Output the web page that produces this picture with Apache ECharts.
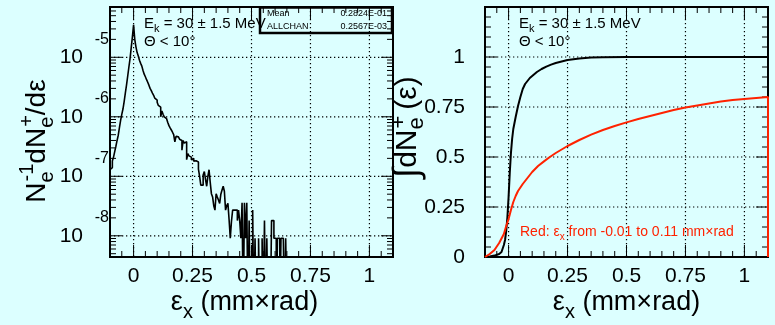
<!DOCTYPE html>
<html>
<head>
<meta charset="utf-8">
<script src="https://cdn.jsdelivr.net/npm/echarts@6.0.0/dist/echarts.min.js"></script>
<style>
html,body{margin:0;padding:0;background:#dcffff;}
#c{width:775px;height:325px;}
</style>
</head>
<body>
<div id="c"></div>
<script>
// ---------------- data ----------------
// left panel: histogram N^-1 dN/d(eps), bins of 0.005 starting at -0.1 (0 = empty bin)
const histStart = -0.1;
const histBinWidth = 0.005;
const histValues = [
  1.3e-7, 1.4e-7, 1.8e-7, 2.1e-7, 2.6e-7, 3.2e-7, 4.0e-7, 4.9e-7, 6.6e-7, 8.7e-7,
  1.1e-6, 1.35e-6, 1.8e-6, 2.5e-6, 3.4e-6, 4.8e-6, 6.8e-6, 9.5e-6, 1.45e-5, 2.2e-5,
  3.5e-5, 2.0e-5, 1.5e-5, 1.2e-5, 1.05e-5, 8.9e-6, 7.9e-6, 7.1e-6, 6.0e-6, 5.2e-6,
  4.7e-6, 4.2e-6, 3.8e-6, 3.4e-6, 3.0e-6, 2.75e-6, 2.5e-6, 2.3e-6, 2.05e-6, 1.9e-6,
  1.75e-6, 1.55e-6, 1.45e-6, 1.0e-6, 1.25e-6, 1.1e-6, 1.0e-6, 9.3e-7, 8.7e-7, 8.0e-7,
  7.1e-7, 6.5e-7, 6.0e-7, 5.5e-7, 5.0e-7, 3.8e-7, 4.7e-7, 4.6e-7, 4.4e-7, 4.2e-7,
  4.0e-7, 2.75e-7, 4.0e-7, 3.6e-7, 3.8e-7, 1.9e-7, 2.4e-7, 2.2e-7, 2.1e-7, 1.9e-7,
  2.0e-7, 1.8e-7, 1.82e-7, 1.86e-7, 1.74e-7, 1.32e-7, 1.0e-7, 7.1e-8, 7.1e-8, 1.05e-7,
  1.2e-7, 8.9e-8, 6.8e-8, 1.0e-7, 1.29e-7, 7.9e-8, 5.1e-8, 4.5e-8, 3.2e-8, 2.7e-8,
  5.1e-8, 4.5e-8, 4.0e-8, 3.5e-8, 5.0e-8, 5.9e-8, 6.8e-8, 5.6e-8, 2.7e-8, 3.2e-8,
  3.5e-8, 1.86e-8, 9.1e-9, 1.74e-8, 2.7e-8, 2.7e-8, 2.7e-8, 2.7e-8, 1.8e-8, 2.7e-8,
  1.8e-8, 9.1e-9, 3.6e-8, 0, 3.6e-8, 9.1e-9, 3.6e-8, 0, 1.8e-8, 0,
  0, 2.7e-8, 0, 9.1e-9, 0, 0, 9.1e-9, 0, 0, 9.1e-9,
  0, 1.8e-8, 0, 9.1e-9, 0, 0, 0, 1.8e-8, 1.8e-8, 9.1e-9,
  9.1e-9, 0, 9.1e-9, 9.1e-9, 0, 9.1e-9, 9.1e-9, 9.1e-9, 0, 9.1e-9,
  0, 0
];
// right panel: cumulative distributions
const cumBlackX = [-0.1, -0.08, -0.06, -0.04, -0.03, -0.02, -0.015, -0.01, -0.005, 0, 0.005, 0.01, 0.015, 0.02, 0.03, 0.04, 0.05, 0.06, 0.07, 0.08, 0.09, 0.1, 0.12, 0.14, 0.16, 0.18, 0.2, 0.25, 0.3, 0.35, 0.4, 0.5, 1.1];
const cumBlackY = [0, 0.003, 0.007, 0.015, 0.025, 0.06, 0.085, 0.13, 0.2, 0.3, 0.42, 0.52, 0.59, 0.64, 0.70, 0.755, 0.80, 0.84, 0.865, 0.88, 0.895, 0.905, 0.925, 0.94, 0.952, 0.962, 0.97, 0.985, 0.993, 0.997, 0.999, 1.0, 1.0];
const cumRedX = [-0.1, -0.08, -0.06, -0.04, -0.02, -0.01, 0, 0.01, 0.02, 0.03, 0.04, 0.06, 0.08, 0.1, 0.125, 0.15, 0.175, 0.2, 0.25, 0.3, 0.35, 0.4, 0.45, 0.5, 0.55, 0.6, 0.65, 0.7, 0.75, 0.8, 0.85, 0.9, 0.95, 1.0, 1.05, 1.1, 1.1];
const cumRedY = [0, 0.015, 0.035, 0.07, 0.115, 0.155, 0.19, 0.235, 0.275, 0.305, 0.33, 0.365, 0.395, 0.425, 0.455, 0.478, 0.50, 0.52, 0.555, 0.585, 0.612, 0.635, 0.655, 0.673, 0.69, 0.705, 0.72, 0.735, 0.748, 0.758, 0.768, 0.777, 0.785, 0.79, 0.795, 0.80, 0];

// axes / ticks
const xRange = [-0.1, 1.1];
const logRange = [4.4e-9, 7e-5];
const fracRange = [0, 1.25];
const xTickLabels = [0, 0.25, 0.5, 0.75, 1];
const xMinorTicks = [-0.05, 0.05, 0.1, 0.15, 0.2, 0.3, 0.35, 0.4, 0.45, 0.55, 0.6, 0.65, 0.7, 0.8, 0.85, 0.9, 0.95, 1.05];
const fracTickLabels = [0, 0.25, 0.5, 0.75, 1];
const fracMinorTicks = [0.05, 0.1, 0.15, 0.2, 0.3, 0.35, 0.4, 0.45, 0.55, 0.6, 0.65, 0.7, 0.8, 0.85, 0.9, 0.95, 1.05, 1.1, 1.15, 1.2];
const logMajorTicks = [1e-8, 1e-7, 1e-6, 1e-5];
const logMinorTicks = [5e-9, 6e-9, 7e-9, 8e-9, 9e-9,
  2e-8, 3e-8, 4e-8, 5e-8, 6e-8, 7e-8, 8e-8, 9e-8,
  2e-7, 3e-7, 4e-7, 5e-7, 6e-7, 7e-7, 8e-7, 9e-7,
  2e-6, 3e-6, 4e-6, 5e-6, 6e-6, 7e-6, 8e-6, 9e-6,
  2e-5, 3e-5, 4e-5, 5e-5, 6e-5];

// ---------------- chart ----------------
const FONT = '"Liberation Sans", Arial, Helvetica, sans-serif';
const chart = echarts.init(document.getElementById('c'), null, {renderer: 'canvas'});

function tickRender(params, api) {
  const cs = params.coordSys;
  const p = api.coord([api.value(0), api.value(1)]);
  const isY = api.value(2) === 1;
  const major = api.value(3) === 1;
  const len = major ? 12 : 6;
  const st = {stroke: '#000', lineWidth: 1};
  const dot = {stroke: '#000', lineWidth: 1.2, lineDash: [1.3, 2.7]};
  const ch = [];
  if (!isY) {
    const x = p[0], b = cs.y + cs.height, t = cs.y;
    ch.push({type: 'line', shape: {x1: x, y1: b, x2: x, y2: b - len}, style: st});
    ch.push({type: 'line', shape: {x1: x, y1: t, x2: x, y2: t + len}, style: st});
    if (major) ch.push({type: 'line', shape: {x1: x, y1: t, x2: x, y2: b}, style: dot});
  } else {
    const y = p[1], l = cs.x, r = cs.x + cs.width;
    ch.push({type: 'line', shape: {x1: l, y1: y, x2: l + len, y2: y}, style: st});
    ch.push({type: 'line', shape: {x1: r, y1: y, x2: r - len, y2: y}, style: st});
    if (major) ch.push({type: 'line', shape: {x1: l, y1: y, x2: r, y2: y}, style: dot});
  }
  return {type: 'group', children: ch};
}
function tickSeries(idx, xr, yr, xMaj, xMin, yMaj, yMin) {
  const data = [];
  xMaj.forEach(v => data.push([v, yr[0], 0, 1]));
  xMin.forEach(v => data.push([v, yr[0], 0, 0]));
  yMaj.forEach(v => data.push([xr[0], v, 1, 1]));
  yMin.forEach(v => data.push([xr[0], v, 1, 0]));
  return {type: 'custom', xAxisIndex: idx, yAxisIndex: idx, z: 1, silent: true,
    encode: {x: 0, y: 1}, renderItem: tickRender, data: data};
}

const histData = histValues.map((v, i) => [histStart + i * histBinWidth, v > 0 ? v : logRange[0] / 10]);
histData.push([histStart + histValues.length * histBinWidth, histData[histData.length - 1][1]]);

function R(size, lh, va, extra) {
  return Object.assign({fontSize: size, lineHeight: lh, verticalAlign: va, align: 'left', fontFamily: FONT, fill: '#000', color: '#000'}, extra || {});
}
const leftNameRich = {
  m: R(28, 40, 'middle'),
  sp: R(20, 20, 'top'),
  sk: R(20, 20, 'bottom', {width: 1})
};
const rightNameRich = {
  int: R(36, 40, 'middle'),
  m: R(30, 40, 'middle'),
  sp: R(22, 20, 'top', {padding: [0, 6, 0, 0]}),
  sk: R(22, 20, 'bottom', {width: 1})
};
const xTitleRich = {m: R(27, 38, 'middle'), sb: R(20, 19, 'bottom')};

function xAxisCfg(idx, shiftPad) {
  return {
    gridIndex: idx, type: 'value', min: xRange[0], max: xRange[1],
    axisLine: {show: false}, axisTick: {show: false}, splitLine: {show: false},
    axisLabel: {customValues: xTickLabels, margin: 9, fontSize: 21, color: '#000', fontFamily: FONT},
    name: '{m|ε}{sb|x}{m| (mm×rad)}', nameLocation: 'middle', nameGap: 27, nameMoveOverlap: false,
    nameTextStyle: {rich: xTitleRich, padding: [0, shiftPad, 0, 0]}
  };
}

const option = {
  animation: false,
  backgroundColor: '#dcffff',
  textStyle: {fontFamily: FONT},
  grid: [
    {left: 110, top: 7, width: 283, height: 250, show: true, borderColor: '#000', borderWidth: 2, backgroundColor: 'transparent', containLabel: false, outerBoundsMode: 'none'},
    {left: 485, top: 7, width: 283, height: 250, show: true, borderColor: '#000', borderWidth: 2, backgroundColor: 'transparent', containLabel: false, outerBoundsMode: 'none'}
  ],
  xAxis: [xAxisCfg(0, 14), xAxisCfg(1, 0)],
  yAxis: [
    {
      gridIndex: 0, type: 'log', logBase: 10, min: logRange[0], max: logRange[1],
      axisLine: {show: false}, axisTick: {show: false}, splitLine: {show: false},
      minorTick: {show: false}, minorSplitLine: {show: false},
      axisLabel: {
        margin: 1,
        formatter: function (v) {
          const e = Math.log10(v), r = Math.round(e);
          if (Math.abs(e - r) > 1e-6) return '';
          return '{e|' + r + '}\n{b|10}\n{e| }';
        },
        rich: {
          e: {fontSize: 16, lineHeight: 18, fontFamily: FONT, color: '#000'},
          b: {fontSize: 21, lineHeight: 18, padding: [0, 26, 0, 0], fontFamily: FONT, color: '#000'}
        }
      }
    },
    {
      gridIndex: 1, type: 'value', min: fracRange[0], max: fracRange[1],
      axisLine: {show: false}, axisTick: {show: false}, splitLine: {show: false},
      axisLabel: {customValues: fracTickLabels, margin: 20, fontSize: 21, color: '#000', fontFamily: FONT}
    }
  ],
  series: [
    tickSeries(0, xRange, logRange, xTickLabels, xMinorTicks, logMajorTicks, logMinorTicks),
    tickSeries(1, xRange, fracRange, xTickLabels, xMinorTicks, fracTickLabels, fracMinorTicks),
    {
      type: 'line', xAxisIndex: 0, yAxisIndex: 0, z: 5, step: 'end', showSymbol: false, symbol: 'none',
      clip: true, silent: true, lineStyle: {color: '#000', width: 1.6}, data: histData
    },
    {
      type: 'line', xAxisIndex: 1, yAxisIndex: 1, z: 5, showSymbol: false, symbol: 'none',
      clip: true, silent: true, lineStyle: {color: '#000', width: 2},
      data: cumBlackX.map((x, i) => [x, cumBlackY[i]])
    },
    {
      type: 'line', xAxisIndex: 1, yAxisIndex: 1, z: 6, showSymbol: false, symbol: 'none',
      clip: false, silent: true, lineStyle: {color: '#ff2200', width: 2},
      data: cumRedX.map((x, i) => [x, cumRedY[i]])
    }
  ],
  graphic: (function () {
    const m = {fontSize: 15, lineHeight: 20, verticalAlign: 'middle', fontFamily: FONT, fill: '#000'};
    const s = {fontSize: 11, lineHeight: 20, verticalAlign: 'bottom', fontFamily: FONT, fill: '#000'};
    function ek(x) {
      return {type: 'text', x: x, y: 24, z: 10, silent: true,
        style: {text: '{m|E}{s|k}{m| = 30 ± 1.5 MeV}', rich: {m: m, s: s}, align: 'left', verticalAlign: 'middle'}};
    }
    function th(x) {
      return {type: 'text', x: x, y: 42, z: 10, silent: true,
        style: {text: 'Θ < 10°', font: '15px ' + FONT, fill: '#000', align: 'left', verticalAlign: 'middle'}};
    }
    function st(x, y, t, al) {
      return {type: 'text', x: x, y: y, z: 10, silent: true,
        style: {text: t, font: '9px ' + FONT, fill: '#000', align: al, verticalAlign: 'middle'}};
    }
    const rm = {fontSize: 14, lineHeight: 20, verticalAlign: 'middle', fontFamily: FONT, fill: '#ff2200'};
    const rs = {fontSize: 10, lineHeight: 20, verticalAlign: 'bottom', fontFamily: FONT, fill: '#ff2200'};
    return [
      ek(144), th(144), ek(519), th(519),
      {type: 'rect', z: 10, silent: true, shape: {x: 260, y: 7.5, width: 132, height: 25.5},
        style: {fill: 'transparent', stroke: '#000', lineWidth: 2.5}},
      st(267, 14, 'Mean', 'left'), st(387, 14, '0.2824E-01', 'right'),
      st(267, 27, 'ALLCHAN', 'left'), st(387, 27, '0.2567E-03', 'right'),
      {type: 'text', x: 520, y: 232, z: 10, silent: true,
        style: {text: '{m|Red: ε}{s|x}{m| from -0.01 to 0.11 mm×rad}', rich: {m: rm, s: rs}, align: 'left', verticalAlign: 'middle'}},
      // y-axis titles (rotated)
      {type: 'text', x: 37, y: 141, rotation: Math.PI / 2, z: 10, silent: true,
        style: {text: '{m|N}{sk|e}{sp|-1}{m|dN}{sk|e}{sp|+}{m|/dε}', rich: leftNameRich, align: 'center', verticalAlign: 'middle'}},
      {type: 'text', x: 408, y: 127, rotation: Math.PI / 2, z: 10, silent: true,
        style: {text: '{int|∫}{m|dN}{sk|e}{sp|+}{m|(ε)}', rich: rightNameRich, align: 'center', verticalAlign: 'middle'}}
    ];
  })()
};
chart.setOption(option);
</script>
</body>
</html>
